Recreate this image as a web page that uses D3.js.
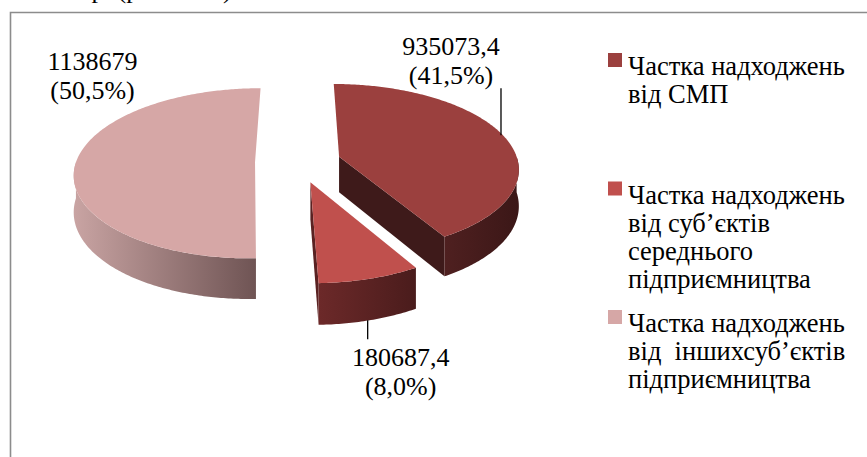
<!DOCTYPE html>
<html>
<head>
<meta charset="utf-8">
<title>Chart</title>
</head>
<body style="margin:0">
<svg id="chart" width="867" height="457"></svg>
<script src="https://cdn.jsdelivr.net/npm/d3@7"></script>
<script>
// data
const categories = ["СМП", "суб’єкти середнього підприємництва", "інші суб’єкти підприємництва"];
const values = [935073.4, 180687.4, 1138679];
const valueText = ["935073,4", "180687,4", "1138679"];
const shareText = ["(41,5%)", "(8,0%)", "(50,5%)"];
const legendText = [
  ["Частка надходжень", "від СМП"],
  ["Частка надходжень", "від суб’єктів", "середнього", "підприємництва"],
  ["Частка надходжень", "від  іншихсуб’єктів", "підприємництва"]
];

// styles
const FONT = "Liberation Serif";
const topColors = ["#9b403e", "#c0504d", "#d6a7a6"];
const wallColors = [["#4f2020", "#3b1717"], ["#6c2929", "#4a1c1c"], ["#c9a4a3", "#6f5454"]];
const cutColors = ["#3e1a1a", "#5a2222", "#8a6b6a"];

const svg = d3.select("#chart");
svg.append("rect").attr("width", 867).attr("height", 457).attr("fill", "#fff");

// heading line of the page, cut by the top edge as in the source
svg.append("text").attr("x", 33).attr("y", -2).attr("font-size", 26).attr("font-family", FONT)
  .text("2016 р. (рис. 2.10)");

svg.append("path").attr("d", "M10.5,457V12.5H867")
  .attr("fill", "none").attr("stroke", "#8c8c8c").attr("stroke-width", 1.6);

// 3d pie projection
const cx = 298, cy = 162, rx = 179, ry = 85, persp = 0.129, explode = 0.24, depth = 36;
const xs = d3.scaleLinear().domain([0, 1]).range([0, rx]);
const ys = d3.scaleLinear().domain([0, 1]).range([0, ry]);
function proj(u, v) {
  const s = 1 + persp * v;
  return [cx + xs(u) * s, cy + ys(v) * s];
}
function down(p, v) { return [p[0], p[1] + depth * (1 + persp * v)]; }

const arcs = d3.pie().sort(null).value(d => d)(values);
const color = d3.scaleOrdinal().domain(categories).range(topColors);
const line = d3.line();

const defs = svg.append("defs");
wallColors.forEach((c, i) => {
  const g = defs.append("linearGradient").attr("id", "wall" + i)
    .attr("x1", 0).attr("x2", 1).attr("y1", 0).attr("y2", 0);
  g.append("stop").attr("offset", 0).attr("stop-color", c[0]);
  g.append("stop").attr("offset", 1).attr("stop-color", c[1]);
});

const slices = arcs.map((a, i) => {
  const mid = (a.startAngle + a.endAngle) / 2;
  const ou = explode * Math.sin(mid), ov = -explode * Math.cos(mid);
  const rim = t => [ou + Math.sin(t), ov - Math.cos(t)];
  const n = Math.max(8, Math.ceil((a.endAngle - a.startAngle) * 80));
  const ts = d3.range(n + 1).map(k => a.startAngle + (a.endAngle - a.startAngle) * k / n);
  return { a, i, mid, ou, ov, rim, ts };
});

const sides = svg.append("g");
const tops = svg.append("g");

slices.forEach(s => {
  const { a, i, ou, ov, rim } = s;
  const c = proj(ou, ov);
  // cut faces turned towards the viewer
  [[a.startAngle, -Math.sin(a.startAngle)], [a.endAngle, Math.sin(a.endAngle)]].forEach(([t, vis]) => {
    if (vis <= 0.001) return;
    const r = rim(t), p = proj(r[0], r[1]);
    sides.append("path")
      .attr("d", line([c, p, down(p, r[1]), down(c, ov)]) + "Z")
      .attr("fill", cutColors[i]);
  });
  // outer wall, near half only
  const t0 = Math.max(a.startAngle, Math.PI / 2), t1 = Math.min(a.endAngle, Math.PI * 1.5);
  if (t1 > t0) {
    const n = Math.ceil((t1 - t0) * 80);
    const pts = d3.range(n + 1).map(k => t0 + (t1 - t0) * k / n).map(t => {
      const r = rim(t); return { p: proj(r[0], r[1]), v: r[1] };
    });
    const upper = pts.map(d => d.p);
    const lower = pts.map(d => down(d.p, d.v)).reverse();
    sides.append("path").attr("d", line(upper.concat(lower)) + "Z")
      .attr("fill", `url(#wall${i})`);
  }
  // top face
  const ring = s.ts.map(t => { const r = rim(t); return proj(r[0], r[1]); });
  tops.append("path").attr("d", line([c].concat(ring)) + "Z")
    .attr("fill", color(categories[i]));
});

// data labels
const labelOffset = [[-52, -80], [31, 46], [17, -94]];
const useBottom = [false, true, false];
const leaderEnd = [-47, 19, null];
slices.forEach(s => {
  const r = s.rim(s.mid);
  let p = proj(r[0], r[1]);
  if (useBottom[s.i]) p = down(p, r[1]);
  const x = p[0] + labelOffset[s.i][0], y = p[1] + labelOffset[s.i][1];
  [valueText[s.i], shareText[s.i]].forEach((t, j) => {
    svg.append("text").attr("x", x).attr("y", y + j * 29)
      .attr("font-family", FONT).attr("font-size", 26).attr("text-anchor", "middle")
      .text(t);
  });
  if (leaderEnd[s.i] !== null) {
    svg.append("line").attr("x1", p[0] - 2).attr("y1", p[1])
      .attr("x2", p[0] - 2).attr("y2", p[1] + leaderEnd[s.i])
      .attr("stroke", "#000").attr("stroke-width", 1.3);
  }
});

// legend
const legendY = d3.scaleLinear().domain([0, legendText.length - 1]).range([75, 332]);
legendText.forEach((lines, i) => {
  const y = legendY(i);
  svg.append("rect").attr("x", 608).attr("y", y - 22).attr("width", 14).attr("height", 14)
    .attr("fill", topColors[i]);
  lines.forEach((t, j) => {
    svg.append("text").attr("x", 628).attr("y", y + j * 28)
      .attr("font-family", FONT).attr("font-size", 26.5)
      .style("white-space", "pre").text(t);
  });
});
</script>
</body>
</html>
